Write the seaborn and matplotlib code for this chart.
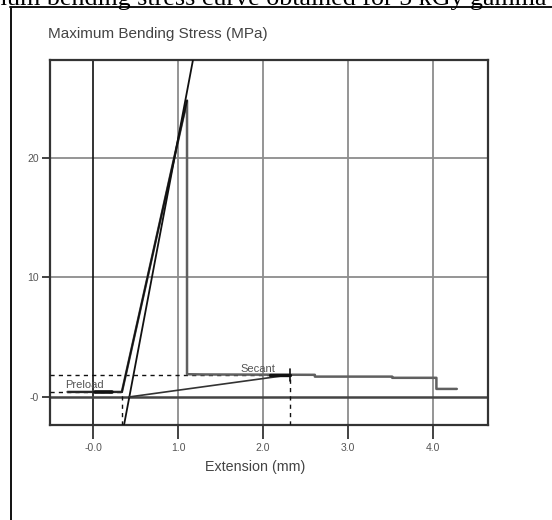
import numpy as np
import pandas as pd
import matplotlib
matplotlib.use("Agg")
import matplotlib.pyplot as plt
from matplotlib.lines import Line2D
from matplotlib import font_manager
import seaborn as sns

# Flexural test record: extension (mm) vs. maximum bending stress (MPa)
ext_mm = [-0.30, 0.34, 1.106, 1.106, 1.30, 2.61, 2.61, 3.52, 3.52, 4.04, 4.04, 4.28]
stress_mpa = [0.42, 0.42, 24.8, 1.90, 1.88, 1.85, 1.70, 1.70, 1.60, 1.60, 0.67, 0.67]

# Modulus (slope) fit line
modulus_x = [0.365, 1.176]
modulus_y = [-2.35, 28.2]

# Secant line from the modulus zero-intercept to the secant point
secant_x = [0.427, 2.32]
secant_y = [0.0, 1.85]

# Marker points
preload_pt = (0.34, 0.42)
secant_pt = (2.32, 1.85)

x_ticks = [0.0, 1.0, 2.0, 3.0, 4.0]
x_ticklabels = ["-0.0", "1.0", "2.0", "3.0", "4.0"]
y_ticks = [0, 10, 20]
y_ticklabels = ["-0", "10", "20"]

xlim = (-0.506, 4.647)
ylim = (-2.35, 28.2)

sns.set_theme(style="white")
plt.rcParams["font.family"] = ["Liberation Sans", "DejaVu Sans"]

installed = {f.name for f in font_manager.fontManager.ttflist}
narrow = "Liberation Sans Narrow" if "Liberation Sans Narrow" in installed else "Liberation Sans"
small_family = [narrow, "DejaVu Sans"]

W, H = 552, 520
fig = plt.figure(figsize=(W / 100, H / 100), dpi=100)
ax = fig.add_axes([50 / W, 1 - 425 / H, (488 - 50) / W, (425 - 60) / H])

ax.set_xlim(*xlim)
ax.set_ylim(*ylim)

# grid lines
for gx in x_ticks[1:]:
    ax.axvline(gx, color="#8c8c8c", lw=1.3, zorder=1)
for gy in y_ticks[1:]:
    ax.axhline(gy, color="#8c8c8c", lw=1.3, zorder=1)
ax.axvline(0.0, color="#111111", lw=1.2, zorder=2)
ax.axhline(0.0, color="#444444", lw=1.8, zorder=2)

curve = pd.DataFrame({"ext": ext_mm, "stress": stress_mpa})
sns.lineplot(data=curve, x="ext", y="stress", sort=False, estimator=None,
             color="#606060", lw=1.8, ax=ax, zorder=4)

mod = pd.DataFrame({"ext": modulus_x, "stress": modulus_y})
sns.lineplot(data=mod, x="ext", y="stress", sort=False, estimator=None,
             color="#111111", lw=1.3, ax=ax, zorder=5)

sec = pd.DataFrame({"ext": secant_x, "stress": secant_y})
sns.lineplot(data=sec, x="ext", y="stress", sort=False, estimator=None,
             color="#333333", lw=1.2, ax=ax, zorder=5)

# loading segment of the record drawn dark
ax.plot(ext_mm[1:3], stress_mpa[1:3], color="#111111", lw=1.3, zorder=5)
ax.plot([-0.30, 0.34], [0.42, 0.42], color="#222222", lw=1.3, zorder=5)
ax.plot([0.02, 0.22], [0.42, 0.42], color="#111111", lw=2.6, zorder=6)
ax.plot([2.08, 2.32], [1.85, 1.85], color="#111111", lw=2.4, zorder=6)

# preload / secant reference lines
dash = dict(color="#111111", lw=1.0, ls=(0, (3, 3)), zorder=3)
ax.plot([xlim[0], preload_pt[0]], [preload_pt[1]] * 2, **dash)
ax.plot([preload_pt[0]] * 2, [ylim[0], preload_pt[1]], **dash)
ax.plot([xlim[0], secant_pt[0]], [secant_pt[1]] * 2, **dash)
ax.plot([secant_pt[0]] * 2, [ylim[0], secant_pt[1]], **dash)
ax.plot([secant_pt[0]] * 2, [secant_pt[1] - 0.5, secant_pt[1] + 0.5],
        color="#111111", lw=1.2, zorder=6)

ax.text(-0.33, 0.55, "Preload", fontsize=8, color="#555555",
        family=small_family, ha="left", va="bottom", zorder=7)
ax.text(1.73, 1.95, "Secant", fontsize=8, color="#555555",
        family=small_family, ha="left", va="bottom", zorder=7)

ax.set_xticks(x_ticks)
ax.set_xticklabels(x_ticklabels, family=small_family)
ax.set_yticks(y_ticks)
ax.set_yticklabels(y_ticklabels, family=small_family)
ax.tick_params(axis="x", direction="out", length=10, width=1.2, color="#222222",
               labelsize=7.5, labelcolor="#555555", pad=3, bottom=True)
ax.tick_params(axis="y", direction="out", length=6, width=1.2, color="#222222",
               labelsize=7.5, labelcolor="#555555", pad=2, left=True)
ax.set_xlabel("")
ax.set_ylabel("")

for s in ax.spines.values():
    s.set_visible(True)
    s.set_color("#333333")
    s.set_linewidth(1.6)

fig.text(48 / W, 1 - 34 / H, "Maximum Bending Stress (MPa)", fontsize=11,
         color="#444444", ha="left", va="center")
fig.text(255 / W, 1 - 467 / H, "Extension (mm)", fontsize=10.3,
         color="#444444", ha="center", va="center")

# page frame and cropped caption line above the chart
fig.add_artist(Line2D([10.5 / W, 10.5 / W], [0, 1 - 7 / H], color="#111111",
                      lw=1.4, transform=fig.transFigure))
fig.add_artist(Line2D([10 / W, 1], [1 - 7 / H, 1 - 7 / H], color="#111111",
                      lw=1.4, transform=fig.transFigure))
fig.text(547 / W, 1 - 5 / H,
         "Maximum bending stress curve obtained for 5 kGy gamma",
         fontsize=18.7, family=["Liberation Serif", "DejaVu Serif"],
         color="#000000", ha="right", va="baseline")

fig.savefig("out.png", dpi=100)
